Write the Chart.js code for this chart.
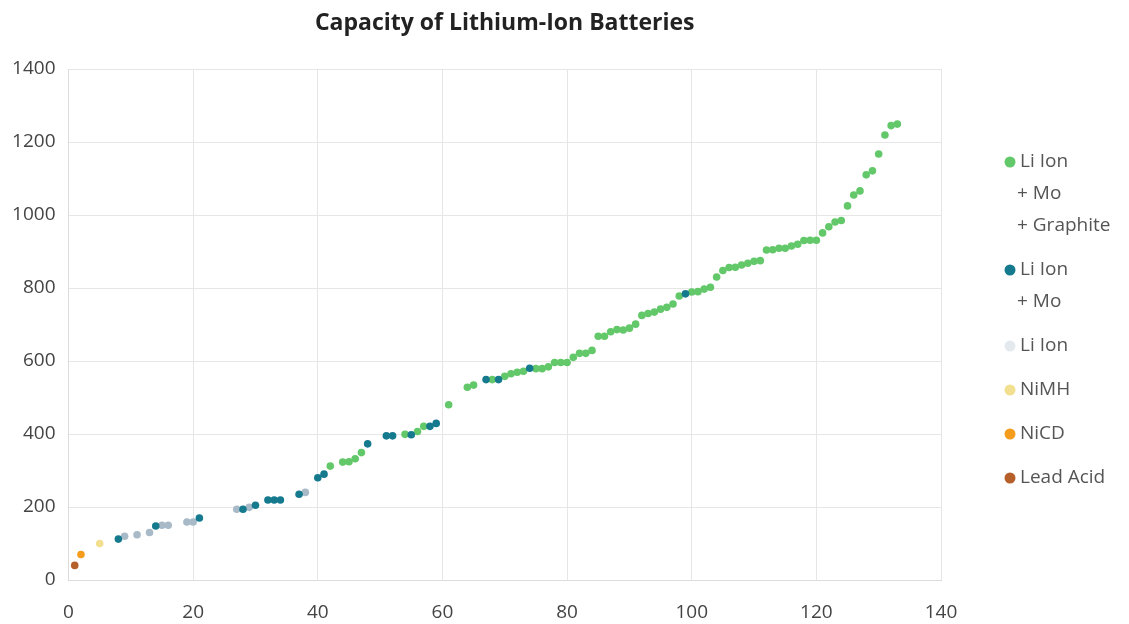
<!DOCTYPE html>
<html>
<head>
<meta charset="utf-8">
<script src="https://cdn.jsdelivr.net/npm/chart.js@4.4.1/dist/chart.umd.min.js"></script>
<style>
  html, body { margin: 0; padding: 0; background: #fff; }
  #wrap { width: 1129px; height: 624px; }
</style>
</head>
<body>
<div id="wrap"><canvas id="scatterChart"></canvas></div>
<script>
// [x, capacity] per battery type
var liIonMoGraphite = [
    [42,312],[44,323],[45,324],[46,332],[47,349],[54,399],[56,407],[57,421],[61,480],
    [64,528],[65,534],[68,549],[70,558],[71,565],[72,569],[73,572],[75,579],[76,579],
    [77,584],[78,596],[79,596],[80,596],[81,610],[82,621],[83,621],[84,629],[85,668],
    [86,668],[87,680],[88,686],[89,685],[90,690],[91,701],[92,725],[93,730],[94,734],
    [95,742],[96,747],[97,756],[98,778],[100,789],[101,790],[102,797],[103,802],[104,830],
    [105,848],[106,856],[107,857],[108,863],[109,868],[110,873],[111,875],[112,904],[113,905],
    [114,909],[115,909],[116,915],[117,920],[118,930],[119,931],[120,931],[121,951],[122,968],
    [123,981],[124,985],[125,1025],[126,1055],[127,1066],[128,1110],[129,1121],[130,1167],
    [131,1219],[132,1245],[133,1249]
];
var liIonMo = [
    [8,112],[14,148],[21,170],[28,194],[30,205],[32,219],[33,219],[34,219],[37,235],
    [40,280],[41,290],[48,373],[51,395],[52,395],[55,398],[58,421],[59,429],[67,549],
    [69,549],[74,580],[99,784]
];
var liIon = [[9,120],[11,124],[13,130],[15,150],[16,150],[19,159],[20,159],[27,194],[29,199],[38,240]];
var nimh = [[5,100]];
var nicd = [[2,70]];
var leadAcid = [[1,40]];

var legendLabels = [
    ['Li Ion', '+ Mo', '+ Graphite'],
    ['Li Ion', '+ Mo'],
    ['Li Ion'],
    ['NiMH'],
    ['NiCD'],
    ['Lead Acid']
];
var legendColors = ['#63c869', '#167a8f', '#e4e9ee', '#f3df90', '#f59c1c', '#b5602a'];

function toPoints(arr) {
    return arr.map(function (p) { return {x: p[0], y: p[1]}; });
}
function ds(label, arr, color) {
    return {
        label: label,
        data: toPoints(arr),
        backgroundColor: color,
        borderWidth: 0,
        pointRadius: 3.8,
        pointHoverRadius: 3.8
    };
}

var FONT = '"Open Sans", "Noto Sans", sans-serif';

// title + multi-line legend drawn by hand
var sidePlugin = {
    id: 'side',
    afterDraw: function (chart) {
        var ctx = chart.ctx, area = chart.chartArea;
        ctx.save();
        ctx.fillStyle = '#222';
        ctx.font = 'bold 23px ' + FONT;
        ctx.textAlign = 'center';
        ctx.textBaseline = 'middle';
        ctx.fillText('Capacity of Lithium-Ion Batteries', (area.left + area.right) / 2, 23);

        ctx.font = '19px ' + FONT;
        ctx.textAlign = 'left';
        var y = 162;
        legendLabels.forEach(function (lines, i) {
            ctx.fillStyle = legendColors[i];
            ctx.beginPath();
            ctx.arc(1010, y, 5.5, 0, Math.PI * 2);
            ctx.fill();
            ctx.fillStyle = '#555';
            lines.forEach(function (t, j) {
                ctx.fillText(t, j === 0 ? 1020 : 1017, y + j * 32);
            });
            y += (lines.length - 1) * 32 + 44;
        });
        ctx.restore();
    }
};

var ctxScatter = document.getElementById('scatterChart');
var myChart = new Chart(ctxScatter, {
    type: 'scatter',
    data: {
        datasets: [
            ds('Li Ion + Mo', liIonMo, '#167a8f'),
            ds('Li Ion', liIon, '#a8bac7'),
            ds('Li Ion + Mo + Graphite', liIonMoGraphite, '#63c869'),
            ds('NiMH', nimh, '#f3df90'),
            ds('NiCD', nicd, '#f59c1c'),
            ds('Lead Acid', leadAcid, '#b5602a')
        ]
    },
    options: {
        responsive: true,
        maintainAspectRatio: false,
        animation: false,
        layout: {
            padding: {top: 69, right: 188, bottom: 0, left: 0}
        },
        plugins: {
            legend: {display: false},
            title: {display: false},
            tooltip: {enabled: false}
        },
        scales: {
            x: {
                type: 'linear',
                min: 0,
                max: 140,
                ticks: {stepSize: 20, color: '#444', padding: 21, font: {family: FONT, size: 19}},
                grid: {color: '#e6e6e6', drawTicks: false},
                border: {color: '#dcdcdc'},
                afterFit: function (scale) { scale.height = 44; }
            },
            y: {
                min: 0,
                max: 1400,
                ticks: {
                    stepSize: 200, color: '#444', padding: 13, font: {family: FONT, size: 19},
                    callback: function (v) { return String(v); }
                },
                grid: {color: '#e6e6e6', drawTicks: false},
                border: {color: '#dcdcdc'},
                afterFit: function (scale) { scale.width = 68.5; }
            }
        }
    },
    plugins: [sidePlugin]
});
</script>
</body>
</html>
